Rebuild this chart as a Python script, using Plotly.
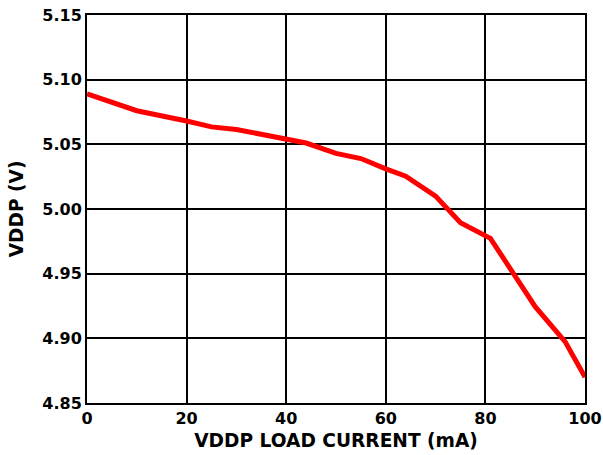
import plotly.graph_objects as go

load_current_ma = [0, 10, 20, 25, 30, 35, 40, 44, 50, 55, 60, 64, 70, 75, 81, 86, 90, 96, 100]
vddp_v = [5.089, 5.076, 5.068, 5.0635, 5.0615, 5.058, 5.0545, 5.051, 5.043, 5.039, 5.031,
          5.0254, 5.010, 4.9894, 4.9773, 4.9477, 4.9245, 4.8975, 4.870]

x_ticks = [0, 20, 40, 60, 80, 100]
y_ticks = [4.85, 4.90, 4.95, 5.00, 5.05, 5.10, 5.15]

font_family = "DejaVu Sans"

fig = go.Figure()
fig.add_trace(go.Scatter(
    x=load_current_ma, y=vddp_v, mode="lines",
    line=dict(color="#ff0000", width=5),
    cliponaxis=False, showlegend=False, hoverinfo="skip",
))

fig.update_layout(
    width=603, height=455,
    margin=dict(l=87, r=18, t=15, b=52, pad=0),
    paper_bgcolor="white", plot_bgcolor="white",
    font=dict(family=font_family, color="black"),
)
fig.update_xaxes(
    range=[0, 100], tickvals=x_ticks, ticktext=[str(v) for v in x_ticks],
    showgrid=True, gridcolor="black", gridwidth=2,
    showline=True, linecolor="black", linewidth=2, mirror=True,
    zeroline=False, ticks="", ticklen=0, automargin=False,
    tickfont=dict(family=font_family, size=16, color="black", weight="bold"),
    title=dict(text="<b>VDDP LOAD CURRENT (mA)</b>", font=dict(family=font_family, size=18.6), standoff=7),
)
fig.update_yaxes(
    range=[4.85, 5.15], tickvals=y_ticks, ticktext=[f"{v:.2f}" for v in y_ticks],
    showgrid=True, gridcolor="black", gridwidth=2,
    showline=True, linecolor="black", linewidth=2, mirror=True,
    zeroline=False, ticks="", ticklen=0, automargin=False,
    tickfont=dict(family=font_family, size=16, color="black", weight="bold"),
    title=dict(text="<b>VDDP (V)</b>", font=dict(family=font_family, size=18.6), standoff=14),
)

# Remove the browser's default 8px body margin so the 603x455 figure fills the window exactly.
fig.write_html("out.html", config={"displayModeBar": False},
               post_script="document.body.style.margin='0';")
